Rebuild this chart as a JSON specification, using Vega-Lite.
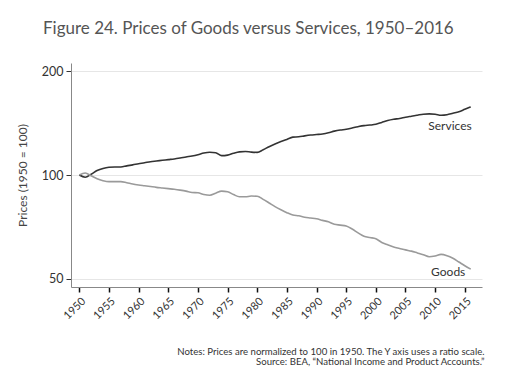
{
  "$schema": "https://vega.github.io/schema/vega-lite/v6.json",
  "width": 411,
  "height": 224,
  "autosize": {"type": "none"},
  "padding": {"left": 71, "top": 63, "right": 30, "bottom": 92},
  "background": "white",
  "config": {
    "font": "Lato",
    "view": {"stroke": null}
  },
  "title": {
    "text": "Figure 24. Prices of Goods versus Services, 1950\u20132016",
    "anchor": "start",
    "frame": "group",
    "dx": -28,
    "offset": 25,
    "fontSize": 17,
    "fontWeight": "normal",
    "color": "#555555",
    "font": "Lato"
  },
  "datasets": {
    "series": [
      {"year":1950,"series":"Services","value":100},{"year":1951,"series":"Services","value":98.5},{"year":1952,"series":"Services","value":100.5},{"year":1953,"series":"Services","value":103},{"year":1954,"series":"Services","value":104.5},{"year":1955,"series":"Services","value":105.3},{"year":1956,"series":"Services","value":105.5},{"year":1957,"series":"Services","value":105.5},{"year":1958,"series":"Services","value":106.3},{"year":1959,"series":"Services","value":107},{"year":1960,"series":"Services","value":107.8},{"year":1961,"series":"Services","value":108.5},{"year":1962,"series":"Services","value":109.3},{"year":1963,"series":"Services","value":109.8},{"year":1964,"series":"Services","value":110.3},{"year":1965,"series":"Services","value":110.8},{"year":1966,"series":"Services","value":111.3},{"year":1967,"series":"Services","value":112},{"year":1968,"series":"Services","value":112.8},{"year":1969,"series":"Services","value":113.5},{"year":1970,"series":"Services","value":114.5},{"year":1971,"series":"Services","value":115.8},{"year":1972,"series":"Services","value":116.4},{"year":1973,"series":"Services","value":116},{"year":1974,"series":"Services","value":113.8},{"year":1975,"series":"Services","value":114.2},{"year":1976,"series":"Services","value":115.6},{"year":1977,"series":"Services","value":116.7},{"year":1978,"series":"Services","value":117},{"year":1979,"series":"Services","value":116.5},{"year":1980,"series":"Services","value":116.3},{"year":1981,"series":"Services","value":118.3},{"year":1982,"series":"Services","value":120.8},{"year":1983,"series":"Services","value":123},{"year":1984,"series":"Services","value":125},{"year":1985,"series":"Services","value":126.8},{"year":1986,"series":"Services","value":128.7},{"year":1987,"series":"Services","value":129},{"year":1988,"series":"Services","value":129.8},{"year":1989,"series":"Services","value":130.5},{"year":1990,"series":"Services","value":131},{"year":1991,"series":"Services","value":131.5},{"year":1992,"series":"Services","value":132.5},{"year":1993,"series":"Services","value":134},{"year":1994,"series":"Services","value":135},{"year":1995,"series":"Services","value":135.6},{"year":1996,"series":"Services","value":136.8},{"year":1997,"series":"Services","value":138},{"year":1998,"series":"Services","value":139},{"year":1999,"series":"Services","value":139.5},{"year":2000,"series":"Services","value":140.2},{"year":2001,"series":"Services","value":142},{"year":2002,"series":"Services","value":143.8},{"year":2003,"series":"Services","value":145},{"year":2004,"series":"Services","value":145.8},{"year":2005,"series":"Services","value":147},{"year":2006,"series":"Services","value":148},{"year":2007,"series":"Services","value":149},{"year":2008,"series":"Services","value":150},{"year":2009,"series":"Services","value":150.3},{"year":2010,"series":"Services","value":150},{"year":2011,"series":"Services","value":149},{"year":2012,"series":"Services","value":149.5},{"year":2013,"series":"Services","value":151},{"year":2014,"series":"Services","value":152.5},{"year":2015,"series":"Services","value":155},{"year":2016,"series":"Services","value":157.5},
      {"year":1950,"series":"Goods","value":100},{"year":1951,"series":"Goods","value":101.3},{"year":1952,"series":"Goods","value":99.5},{"year":1953,"series":"Goods","value":97.5},{"year":1954,"series":"Goods","value":96.3},{"year":1955,"series":"Goods","value":95.7},{"year":1956,"series":"Goods","value":95.7},{"year":1957,"series":"Goods","value":95.7},{"year":1958,"series":"Goods","value":95},{"year":1959,"series":"Goods","value":94.2},{"year":1960,"series":"Goods","value":93.6},{"year":1961,"series":"Goods","value":93.1},{"year":1962,"series":"Goods","value":92.6},{"year":1963,"series":"Goods","value":92.1},{"year":1964,"series":"Goods","value":91.7},{"year":1965,"series":"Goods","value":91.3},{"year":1966,"series":"Goods","value":90.9},{"year":1967,"series":"Goods","value":90.4},{"year":1968,"series":"Goods","value":89.8},{"year":1969,"series":"Goods","value":89},{"year":1970,"series":"Goods","value":88.8},{"year":1971,"series":"Goods","value":87.8},{"year":1972,"series":"Goods","value":87.4},{"year":1973,"series":"Goods","value":88.6},{"year":1974,"series":"Goods","value":89.8},{"year":1975,"series":"Goods","value":89.4},{"year":1976,"series":"Goods","value":87.8},{"year":1977,"series":"Goods","value":86.5},{"year":1978,"series":"Goods","value":86.5},{"year":1979,"series":"Goods","value":86.9},{"year":1980,"series":"Goods","value":86.8},{"year":1981,"series":"Goods","value":85},{"year":1982,"series":"Goods","value":83},{"year":1983,"series":"Goods","value":81},{"year":1984,"series":"Goods","value":79.3},{"year":1985,"series":"Goods","value":77.8},{"year":1986,"series":"Goods","value":76.6},{"year":1987,"series":"Goods","value":76.2},{"year":1988,"series":"Goods","value":75.5},{"year":1989,"series":"Goods","value":75.1},{"year":1990,"series":"Goods","value":74.7},{"year":1991,"series":"Goods","value":73.9},{"year":1992,"series":"Goods","value":73.2},{"year":1993,"series":"Goods","value":72},{"year":1994,"series":"Goods","value":71.6},{"year":1995,"series":"Goods","value":71.2},{"year":1996,"series":"Goods","value":69.8},{"year":1997,"series":"Goods","value":68},{"year":1998,"series":"Goods","value":66.5},{"year":1999,"series":"Goods","value":65.9},{"year":2000,"series":"Goods","value":65.4},{"year":2001,"series":"Goods","value":63.8},{"year":2002,"series":"Goods","value":62.8},{"year":2003,"series":"Goods","value":61.9},{"year":2004,"series":"Goods","value":61.3},{"year":2005,"series":"Goods","value":60.7},{"year":2006,"series":"Goods","value":60.2},{"year":2007,"series":"Goods","value":59.5},{"year":2008,"series":"Goods","value":58.8},{"year":2009,"series":"Goods","value":58},{"year":2010,"series":"Goods","value":58.3},{"year":2011,"series":"Goods","value":58.9},{"year":2012,"series":"Goods","value":58.4},{"year":2013,"series":"Goods","value":57.4},{"year":2014,"series":"Goods","value":56},{"year":2015,"series":"Goods","value":54.6},{"year":2016,"series":"Goods","value":53.4}
    ],
    "labels": [
      {"year": 2012.5, "value": 138.9, "label": "Services"},
      {"year": 2012.2, "value": 52.4, "label": "Goods"}
    ]
  },
  "encoding": {
    "x": {
      "field": "year", "type": "quantitative",
      "scale": {"domain": [1948.6, 2017.9], "nice": false, "zero": false},
      "axis": {
        "values": [1950,1955,1960,1965,1970,1975,1980,1985,1990,1995,2000,2005,2010,2015],
        "format": "d",
        "labelAngle": -45,
        "labelAlign": "right",
        "labelBaseline": "top",
        "labelOverlap": false,
        "labelSeparation": 0,
        "labelFontSize": 11,
        "labelColor": "#333333",
        "labelPadding": 3,
        "tickColor": "#111111",
        "tickWidth": 1.5,
        "tickSize": 5,
        "domainColor": "#888888",
        "domainWidth": 1,
        "grid": false,
        "title": ["Notes: Prices are normalized to 100 in 1950. The Y axis uses a ratio scale.", "Source: BEA, \u201cNational Income and Product Accounts.\u201d"],
        "titleAnchor": "end",
        "titleAlign": "right",
        "titleBaseline": "top",
        "titleFontSize": 9.6,
        "titleFontWeight": "normal",
        "titleColor": "#333333",
        "titleLineHeight": 10,
        "titleY": 59,
        "titleX": 413
      }
    },
    "y": {
      "field": "value", "type": "quantitative",
      "scale": {"type": "log", "domain": [47.4, 211], "nice": false, "zero": false},
      "axis": {
        "values": [50, 100, 200],
        "format": "d",
        "labelFontSize": 12.5,
        "labelColor": "#333333",
        "labelPadding": 3,
        "tickColor": "#333333",
        "tickSize": 5,
        "domainColor": "#888888",
        "grid": true,
        "gridColor": "#e6e6e6",
        "gridWidth": 1,
        "title": "Prices (1950 = 100)",
        "titleFontSize": 12,
        "titleFontWeight": "normal",
        "titleColor": "#444444",
        "titlePadding": 12
      }
    }
  },
  "layer": [
    {
      "data": {"name": "series"},
      "mark": {"type": "line", "strokeWidth": 1.6, "interpolate": "monotone"},
      "encoding": {
        "color": {
          "field": "series", "type": "nominal",
          "scale": {"domain": ["Services", "Goods"], "range": ["#333333", "#9a9a9a"]},
          "legend": null
        }
      }
    },
    {
      "data": {"name": "labels"},
      "mark": {"type": "text", "fontSize": 12, "color": "#333333", "align": "center", "baseline": "middle"},
      "encoding": {
        "text": {"field": "label"}
      }
    }
  ]
}
